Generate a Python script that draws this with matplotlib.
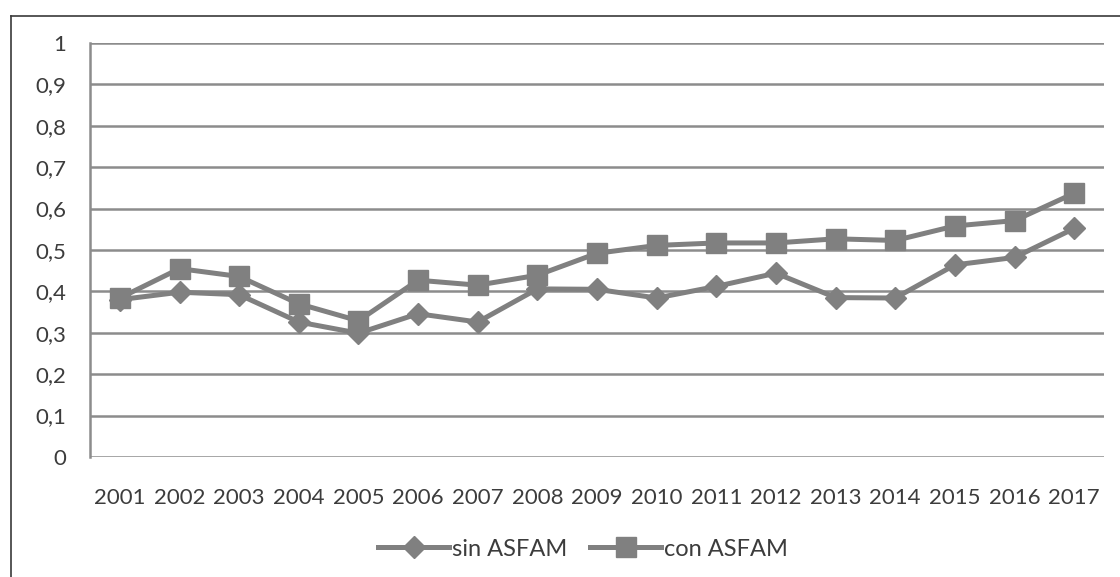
import matplotlib
matplotlib.use("Agg")
import matplotlib.pyplot as plt
from matplotlib.lines import Line2D

years = [str(y) for y in range(2001, 2018)]
sin_asfam = [0.38, 0.398, 0.392, 0.326, 0.299, 0.346, 0.326, 0.406, 0.405,
             0.384, 0.412, 0.444, 0.385, 0.384, 0.464, 0.482, 0.552]
con_asfam = [0.384, 0.455, 0.436, 0.370, 0.329, 0.427, 0.415, 0.439, 0.492,
             0.511, 0.517, 0.517, 0.527, 0.523, 0.558, 0.571, 0.637]
yticks = [0, 0.1, 0.2, 0.3, 0.4, 0.5, 0.6, 0.7, 0.8, 0.9, 1]
ytick_labels = ["0", "0,1", "0,2", "0,3", "0,4", "0,5", "0,6", "0,7", "0,8", "0,9", "1"]

plt.rcParams['font.family'] = ['Lato', 'DejaVu Sans']

grey = '#808080'
text_col = '#3c3c3c'

fig = plt.figure(figsize=(11.2, 5.77), dpi=100)
ax = fig.add_axes([0.0804, 0.208, 0.9053, 0.7175])

x = list(range(len(years)))
ax.plot(x, sin_asfam, color=grey, lw=3.6, marker='D', ms=11,
        label='sin ASFAM', zorder=3)
ax.plot(x, con_asfam, color=grey, lw=3.6, marker='s', ms=14,
        label='con ASFAM', zorder=3)

ax.set_xlim(-0.5, len(years) - 0.5)
ax.set_ylim(0, 1)
ax.set_yticks(yticks)
ax.set_yticklabels(ytick_labels)
ax.set_xticks(x)
ax.set_xticklabels(years)
ax.tick_params(axis='y', length=0, pad=17, labelsize=16, labelcolor=text_col)
ax.tick_params(axis='x', length=0, pad=22, labelsize=16, labelcolor=text_col)

ax.grid(axis='y', color='#8c8c8c', lw=1.8, zorder=1)
for side in ['top', 'right', 'bottom']:
    ax.spines[side].set_visible(False)
ax.spines['left'].set_color('#8c8c8c')
ax.spines['left'].set_linewidth(1.8)

# outer frame, only top and left edges fall inside the image
fig.add_artist(Line2D([11 / 1120, 1], [1 - 16 / 577, 1 - 16 / 577],
                      color='#3a3a3a', lw=1.2, transform=fig.transFigure))
fig.add_artist(Line2D([11 / 1120, 11 / 1120], [0, 1 - 16 / 577],
                      color='#3a3a3a', lw=1.2, transform=fig.transFigure))

leg = fig.legend(loc='center', bbox_to_anchor=(583 / 1120, 1 - 549 / 577),
                 ncol=2, frameon=False, handlelength=3.0, handletextpad=0.1,
                 columnspacing=1.0, prop={'size': 17})
for t in leg.get_texts():
    t.set_color(text_col)

fig.savefig('out.png', dpi=100)
